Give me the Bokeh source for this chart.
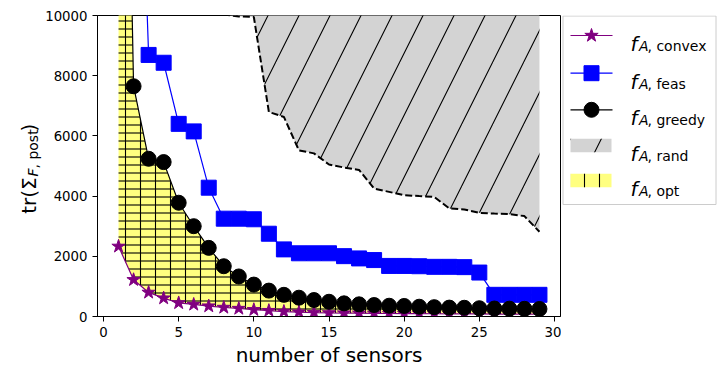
import math
from bokeh.plotting import figure
from bokeh.layouts import row
from bokeh.models import Range1d, FixedTicker
from bokeh.core.properties import value
from bokeh.embed import file_html
from bokeh.resources import INLINE

# ---------------- data ----------------
n_sensors = list(range(1, 30))
f_convex = [2330, 1220, 800, 610, 450, 400, 345, 300, 265, 225, 195, 165, 145, 130,
            120, 115, 110, 105, 100, 97, 94, 91, 88, 86, 84, 82, 80, 78, 76]
f_feas = [45000, 23000, 8690, 8430, 6400, 6150, 4280, 3250, 3250, 3230, 2750, 2230,
          2100, 2100, 2100, 2005, 1930, 1875, 1680, 1680, 1670, 1650, 1650, 1640,
          1460, 720, 720, 720, 720]
f_greedy = [33000, 7650, 5240, 5130, 3780, 3000, 2280, 1670, 1330, 1060, 860, 720,
            625, 547, 490, 437, 404, 381, 358, 350, 325, 310, 295, 290, 275, 265,
            260, 255, 250]
f_rand_low = [95000, 70000, 50000, 36000, 26000, 19000, 14000, 10030, 9970, 9950,
              6795, 6630, 5520, 5420, 5050, 4950, 4870, 4250, 4140, 4030, 4000,
              3975, 3590, 3555, 3445, 3420, 3400, 3335, 2815]
f_rand_high = [120000, 110000, 100000, 90000, 80000, 70000, 60000, 50000, 45000,
               40000, 36000, 33000, 30000, 28000, 26000, 24000, 22000, 21000, 20000,
               19000, 18000, 17000, 16500, 16000, 15500, 15000, 14500, 14000, 13500]
x_ticks = [0, 5, 10, 15, 20, 25, 30]
y_ticks = [0, 2000, 4000, 6000, 8000, 10000]
legend_subs = ["convex", "feas", "greedy", "rand", "opt"]

FONT = "DejaVu Sans"
PURPLE = "#800080"
BLUE = "#0000ff"
YELLOW = "#ffff80"
GREY = "#d3d3d3"

# ---------------- geometry (page pixels) ----------------
FIG_H = 370
TOP = 15
FRAME_H = 301
BOTTOM = FIG_H - TOP - FRAME_H
YLAB_W = 42
LEFT = 96 - YLAB_W
FRAME_W = 464
MAIN_W = LEFT + FRAME_W + 1
LEG_W = 160
X0, X1 = -0.4, 30.4
Y0, Y1 = 0, 10000


def bare(fig):
    fig.axis.visible = False
    fig.xgrid.visible = False
    fig.ygrid.visible = False
    fig.outline_line_color = None


# ---------------- main plot ----------------
p = figure(width=MAIN_W, height=FIG_H, x_range=Range1d(X0, X1), y_range=Range1d(Y0, Y1),
           output_backend="svg", toolbar_location=None,
           min_border_left=LEFT, min_border_right=1, min_border_top=TOP,
           min_border_bottom=BOTTOM)
p.xgrid.visible = False
p.ygrid.visible = False
p.outline_line_color = "black"
p.outline_line_width = 1
p.xaxis.ticker = FixedTicker(ticks=x_ticks)
p.yaxis.ticker = FixedTicker(ticks=y_ticks)
for ax in (p.xaxis[0], p.yaxis[0]):
    ax.axis_line_color = "black"
    ax.major_tick_line_color = "black"
    ax.major_tick_in = 0
    ax.major_tick_out = 5
    ax.minor_tick_line_color = None
    ax.major_label_text_font = FONT
    ax.major_label_text_font_size = "13.3px"
    ax.major_label_text_color = "black"
p.xaxis.major_label_standoff = 5
p.yaxis.major_label_standoff = 5
p.xaxis.axis_label = "number of sensors"
p.xaxis.axis_label_text_font = FONT
p.xaxis.axis_label_text_font_size = "20px"
p.xaxis.axis_label_text_font_style = "normal"
p.xaxis.axis_label_text_color = "black"
p.xaxis.axis_label_standoff = 3

# random region
p.varea(x=n_sensors, y1=f_rand_low, y2=f_rand_high, fill_color=GREY,
        hatch_pattern="/", hatch_color="black", hatch_weight=1.1, hatch_scale=62)
p.line(n_sensors, f_rand_low, line_color="black", line_width=2, line_dash="7 3")

# optimal region
p.varea(x=n_sensors, y1=f_convex, y2=f_greedy, fill_color=YELLOW,
        hatch_pattern="|", hatch_color="black", hatch_weight=1.1, hatch_scale=15)
p.varea(x=n_sensors, y1=f_convex, y2=f_greedy, fill_alpha=0,
        hatch_pattern="-", hatch_color="black", hatch_weight=1.1, hatch_scale=8)

p.line(n_sensors, f_convex, line_color=PURPLE, line_width=1.2)
p.scatter(n_sensors, f_convex, marker="star", size=14, color=PURPLE)
p.line(n_sensors, f_feas, line_color=BLUE, line_width=1.2)
p.scatter(n_sensors, f_feas, marker="square", size=15, color=BLUE)
p.line(n_sensors, f_greedy, line_color="black", line_width=1.2)
p.scatter(n_sensors, f_greedy, marker="circle", size=15, color="black")

# ---------------- y label panel ----------------
yl = figure(width=YLAB_W, height=FIG_H, x_range=Range1d(0, YLAB_W),
            y_range=Range1d(FRAME_H, 0), output_backend="svg", toolbar_location=None,
            min_border_left=0, min_border_right=0, min_border_top=TOP,
            min_border_bottom=BOTTOM)
bare(yl)
# pieces: text, baseline x, start y (page), size, style
ylabel_pieces = [
    ("tr(\u03a3", 28.5, 213.3, "20px", "normal"),
    ("F", 32.3, 176.0, "14px", "italic"),
    (", post", 32.3, 168.0, "14px", "normal"),
    (")", 28.5, 131.0, "20px", "normal"),
]
for txt, px, py, fs, st in ylabel_pieces:
    yl.text(x=[px], y=[py - TOP], text=[txt], angle=math.pi / 2,
            text_font=value(FONT), text_font_size=fs, text_font_style=st,
            text_color="black", text_align="left", text_baseline="alphabetic")

# ---------------- legend ----------------
leg = figure(width=LEG_W, height=FIG_H, x_range=Range1d(-1, LEG_W - 1),
             y_range=Range1d(FRAME_H, 0), output_backend="svg", toolbar_location=None,
             min_border_left=0, min_border_right=0, min_border_top=TOP,
             min_border_bottom=BOTTOM)
bare(leg)

leg.quad(left=[0.5], right=[153.5], top=[0.5], bottom=[189], fill_color="white",
         line_color="#cccccc", line_width=1)

rows_y = [20, 57.7, 94.3, 130, 165]
leg.line([8, 50], [rows_y[0]] * 2, line_color=PURPLE, line_width=1.2)
leg.scatter([29], [rows_y[0]], marker="star", size=14, color=PURPLE)
leg.line([8, 50], [rows_y[1]] * 2, line_color=BLUE, line_width=1.2)
leg.scatter([29], [rows_y[1]], marker="square", size=15, color=BLUE)
leg.line([8, 50], [rows_y[2]] * 2, line_color="black", line_width=1.2)
leg.scatter([29], [rows_y[2]], marker="circle", size=15, color="black")
leg.quad(left=[8], right=[49], top=[rows_y[3] - 6.7], bottom=[rows_y[3] + 6.7],
         fill_color=GREY, line_color=None, hatch_pattern="/",
         hatch_color="black", hatch_weight=1.1, hatch_scale=62)
leg.quad(left=[8], right=[49], top=[rows_y[4] - 6.7], bottom=[rows_y[4] + 6.7],
         fill_color=YELLOW, line_color=None, hatch_pattern="|",
         hatch_color="black", hatch_weight=1.1, hatch_scale=15)

leg.text(x=[68] * 5, y=[y + 8.3 for y in rows_y], text=["f"] * 5,
         text_font=value(FONT), text_font_size="20px", text_font_style="italic",
         text_color="black", text_baseline="alphabetic", text_align="left")
leg.text(x=[76.5] * 5, y=[y + 10.5 for y in rows_y], text=["A"] * 5,
         text_font=value(FONT), text_font_size="14px", text_font_style="italic",
         text_color="black", text_baseline="alphabetic", text_align="left")
leg.text(x=[85] * 5, y=[y + 10.5 for y in rows_y], text=[", " + s for s in legend_subs],
         text_font=value(FONT), text_font_size="14px", text_font_style="normal",
         text_color="black", text_baseline="alphabetic", text_align="left")

layout = row(yl, p, leg, spacing=0)
open("out.html", "w").write(file_html(layout, INLINE))
